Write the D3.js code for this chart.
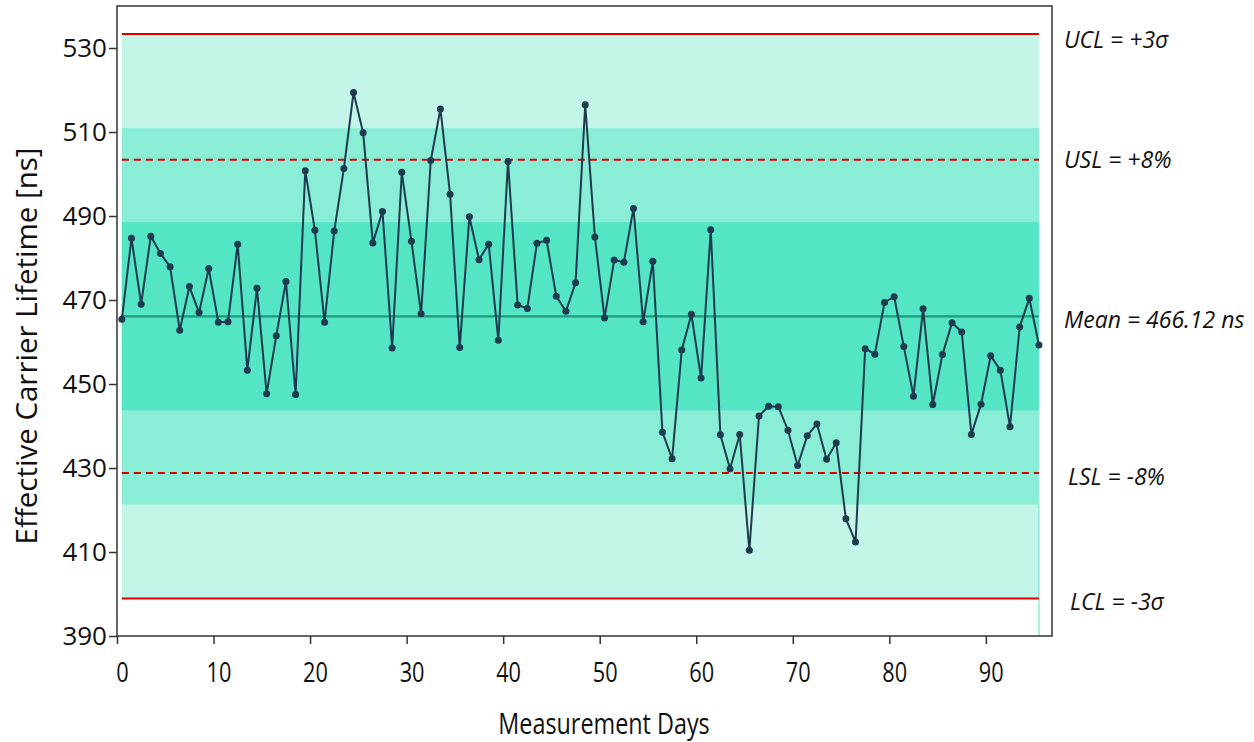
<!DOCTYPE html>
<html>
<head>
<meta charset="utf-8">
<script src="https://cdn.jsdelivr.net/npm/d3@7"></script>
<style>
  body { margin: 0; background: #fff; }
  text { font-family: "Open Sans", sans-serif; fill: #111; }
</style>
</head>
<body>
<script>
//Effective carrier lifetime control chart

//measured lifetimes, one value per measurement day [ns]
var lifetimes = [
    465.4, 484.7, 469.0, 485.2, 481.1, 477.9, 462.8, 473.2, 467.0, 477.5,
    464.7, 464.8, 483.3, 453.3, 472.8, 447.7, 461.5, 474.4, 447.5, 500.8,
    486.6, 464.7, 486.4, 501.3, 519.4, 509.8, 483.6, 491.1, 458.6, 500.4,
    484.0, 466.7, 503.2, 515.5, 495.2, 458.7, 489.8, 479.6, 483.3, 460.4,
    503.0, 468.8, 468.0, 483.5, 484.2, 470.9, 467.3, 474.1, 516.5, 485.0,
    465.7, 479.5, 479.0, 491.8, 464.8, 479.2, 438.5, 432.2, 458.1, 466.6,
    451.4, 486.7, 437.9, 429.8, 438.0, 410.4, 442.4, 444.7, 444.6, 439.0,
    430.6, 437.7, 440.5, 432.1, 436.0, 417.9, 412.4, 458.4, 457.1, 469.4,
    470.8, 458.9, 447.1, 467.9, 445.1, 457.0, 464.6, 462.4, 438.0, 445.2,
    456.7, 453.3, 439.8, 463.6, 470.4, 459.3
];

//statistics shown on the chart
var meanLifetime = 466.12;
var sigma = 22.4;
var specPercent = 8;

//tick labels
var yTicks = [390, 410, 430, 450, 470, 490, 510, 530];
var xTicks = [0, 10, 20, 30, 40, 50, 60, 70, 80, 90];

//right hand labels
var limitLabels = ["UCL = +3σ", "USL = +8%", "Mean = 466.12 ns", "LSL = -8%", "LCL = -3σ"];

//each point sits half a day into its bin
var days = lifetimes.map(function(d, i){ return i + 0.5; });

var W = 1254, H = 742;
var squeeze = 0.82;   //x-axis text in the original is narrow
var svg = d3.select("body").append("svg")
    .attr("width", W).attr("height", H);

var x = d3.scaleLinear().domain([0, 96.85]).range([117, 1052]);
var y = d3.scaleLinear().domain([390, 540]).range([636, 6]);

var x0 = x(days[0]), x1 = x(days[days.length - 1]);

//sigma bands, widest first
var bands = [
    {k: 3, color: "#c3f5e9"},
    {k: 2, color: "#8aeed7"},
    {k: 1, color: "#53e5c4"}
];
svg.selectAll(".band").data(bands).enter().append("rect")
    .attr("x", x0)
    .attr("width", x1 - x0)
    .attr("y", function(d){ return y(meanLifetime + d.k * sigma); })
    .attr("height", function(d){ return y(meanLifetime - d.k * sigma) - y(meanLifetime + d.k * sigma); })
    .attr("fill", function(d){ return d.color; });

//thin sliver at the right end of the fill
svg.append("line")
    .attr("x1", x1).attr("x2", x1)
    .attr("y1", y(meanLifetime - 2 * sigma)).attr("y2", y(390))
    .attr("stroke", "#8aeed7").attr("stroke-width", 1.5);

//limit lines
var ucl = meanLifetime + 3 * sigma,
    lcl = meanLifetime - 3 * sigma,
    usl = meanLifetime * (1 + specPercent / 100),
    lsl = meanLifetime * (1 - specPercent / 100);

var limits = [
    {v: ucl, dash: null, color: "#d90000", w: 2, lx: 1064, ly: 14},
    {v: usl, dash: "7,5", color: "#d90000", w: 2, lx: 1064, ly: 8},
    {v: meanLifetime, dash: null, color: "#1f9a7c", w: 2.2, lx: 1064, ly: 12},
    {v: lsl, dash: "7,5", color: "#d90000", w: 2, lx: 1068, ly: 12},
    {v: lcl, dash: null, color: "#d90000", w: 2, lx: 1070, ly: 11}
];
svg.selectAll(".limit").data(limits).enter().append("line")
    .attr("x1", x0).attr("x2", x1)
    .attr("y1", function(d){ return y(d.v); })
    .attr("y2", function(d){ return y(d.v); })
    .attr("stroke", function(d){ return d.color; })
    .attr("stroke-width", function(d){ return d.w; })
    .attr("stroke-dasharray", function(d){ return d.dash; });

//data line and markers
var line = d3.line()
    .x(function(d, i){ return x(days[i]); })
    .y(function(d){ return y(d); });

svg.append("path")
    .datum(lifetimes)
    .attr("d", line)
    .attr("fill", "none")
    .attr("stroke", "#1e3a4e")
    .attr("stroke-width", 2);

svg.selectAll(".dot").data(lifetimes).enter().append("circle")
    .attr("cx", function(d, i){ return x(days[i]); })
    .attr("cy", function(d){ return y(d); })
    .attr("r", 3.5)
    .attr("fill", "#1e3a4e");

//frame
svg.append("rect")
    .attr("x", 117).attr("y", 6)
    .attr("width", 1052 - 117).attr("height", 636 - 6)
    .attr("fill", "none").attr("stroke", "#333").attr("stroke-width", 1.5);

//axes
var yAxis = svg.append("g")
    .attr("transform", "translate(117,0)")
    .call(d3.axisLeft(y).tickValues(yTicks).tickSize(8).tickPadding(2));
var xAxis = svg.append("g")
    .attr("transform", "translate(0,636)")
    .call(d3.axisBottom(x).tickValues(xTicks).tickSize(8).tickPadding(19));

[yAxis, xAxis].forEach(function(g){
    g.select(".domain").remove();
    g.selectAll("line").attr("stroke", "#333").attr("stroke-width", 1.5);
    g.selectAll("text").style("font-family", "'Open Sans', sans-serif")
        .style("font-size", "26px").attr("fill", "#111");
});
xAxis.selectAll("text").attr("dx", 6)
    .style("font-size", "26.5px")
    .attr("transform", "scale(" + squeeze + ",1)");

//axis titles
svg.append("text")
    .attr("transform", "translate(37,346) rotate(-90)")
    .attr("text-anchor", "middle")
    .style("font-size", "29.5px")
    .text("Effective Carrier Lifetime [ns]");

svg.append("text")
    .attr("transform", "translate(604,734) scale(" + squeeze + ",1)")
    .attr("text-anchor", "middle")
    .style("font-size", "28.5px")
    .text("Measurement Days");

//labels on the right
svg.selectAll(".limLabel").data(limits).enter().append("text")
    .attr("x", function(d){ return d.lx; })
    .attr("y", function(d){ return y(d.v) + d.ly; })
    .style("font-size", "23px")
    .style("font-style", "italic")
    .text(function(d, i){ return limitLabels[i]; });
</script>
</body>
</html>
